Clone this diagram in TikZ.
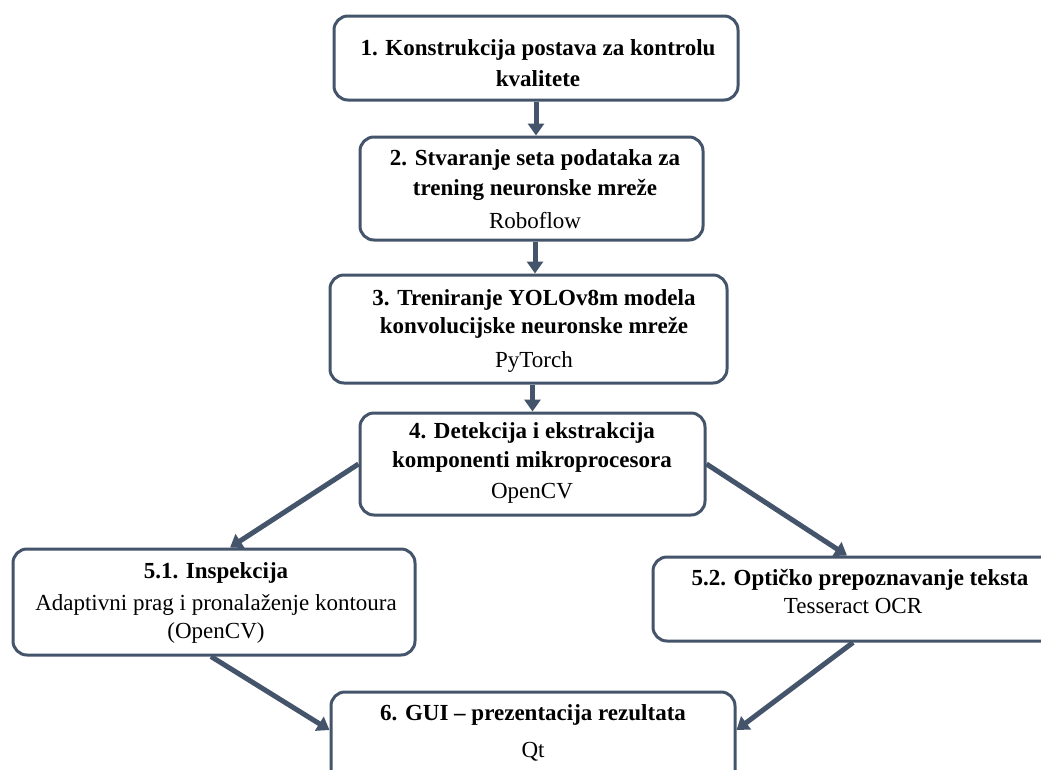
\documentclass[tikz,border=0pt]{standalone}
\usepackage{fontspec}
\setmainfont{Liberation Serif}
\usetikzlibrary{arrows.meta,calc}
\definecolor{slate}{HTML}{44546A}
\tikzset{
  box/.style={draw=slate, line width=3pt, rounded corners=14pt, inner sep=0pt, fill=white},
  ttl/.style={anchor=base, inner sep=0pt, font=\fontsize{23}{27}\selectfont\bfseries},
  sub/.style={anchor=base, inner sep=0pt, font=\fontsize{23}{27}\selectfont},
  flow/.style={draw=slate, line width=5pt, -{Triangle[width=16pt,length=12pt]}}
}
\begin{document}
\begin{tikzpicture}[x=1pt,y=-1pt]
\clip (0,0) rectangle (1041,769);
\fill[white] (0,0) rectangle (1041,769);
% boxes
\node[box, minimum width=404pt, minimum height=84pt]  (b1)  at (536,58) {};
\node[box, minimum width=343pt, minimum height=103pt] (b2)  at (531.5,188.5) {};
\node[box, minimum width=397pt, minimum height=108pt] (b3)  at (528.5,329) {};
\node[box, minimum width=345pt, minimum height=102pt] (b4)  at (532.5,464) {};
\node[box, minimum width=402pt, minimum height=106pt] (b51) at (214,602) {};
\node[box, minimum width=414pt, minimum height=84pt]  (b52) at (860,599) {};
\node[box, minimum width=404pt, minimum height=98pt]  (b6)  at (533,741) {};
% texts
\node[ttl] (t1a) at (538,55) {1. Konstrukcija postava za kontrolu};
\node[ttl] (t1b) at (538,86) {kvalitete};
\node[ttl] (t2a) at (535,165) {2. Stvaranje seta podataka za};
\node[ttl] (t2b) at (535,195) {trening neuronske mreže};
\node[sub] (t2c) at (535,228) {Roboflow};
\node[ttl] (t3a) at (534,305) {3. Treniranje YOLOv8m modela};
\node[ttl] (t3b) at (534,333) {konvolucijske neuronske mreže};
\node[sub] (t3c) at (534,367) {PyTorch};
\node[ttl] (t4a) at (532,438) {4. Detekcija i ekstrakcija};
\node[ttl] (t4b) at (532,467) {komponenti mikroprocesora};
\node[sub] (t4c) at (532,498) {OpenCV};
\node[ttl] (t51a) at (216,578) {5.1. Inspekcija};
\node[sub] (t51b) at (216,610) {Adaptivni prag i pronalaženje kontoura};
\node[sub] (t51c) at (216,638) {(OpenCV)};
\node[ttl] (t52a) at (860,585) {5.2. Optičko prepoznavanje teksta};
\node[sub] (t52b) at (853,613) {Tesseract OCR};
\node[ttl] (t6a) at (533,720) {6. GUI – prezentacija rezultata};
\node[sub] (t6b) at (533,757) {Qt};
% connectors
\draw[flow] (b1.south) -- (b1.south |- b2.north);
\draw[flow] ([xshift=3.5pt]b2.south) -- ([xshift=3.5pt]b2.south |- b3.north);
\draw[flow] (b4.north |- b3.south) -- (b4.north);
\coordinate (e51) at ($(b51.north)+(16,0)$);
\coordinate (e52) at ($(b52.north)+(-13,0)$);
\draw[flow] (b4.west) -- (e51);
\draw[flow] (b4.east) -- (e52);
\coordinate (s51) at ($(b51.south)+(-3,0)$);
\coordinate (s52) at ($(b52.south)+(-7,0)$);
\coordinate (w6) at ($(b6.west)+(0,-11)$);
\coordinate (o6) at ($(b6.east)+(0,-11)$);
\draw[flow] (s51) -- (w6);
\draw[flow] (s52) -- (o6);
\end{tikzpicture}
\end{document}
